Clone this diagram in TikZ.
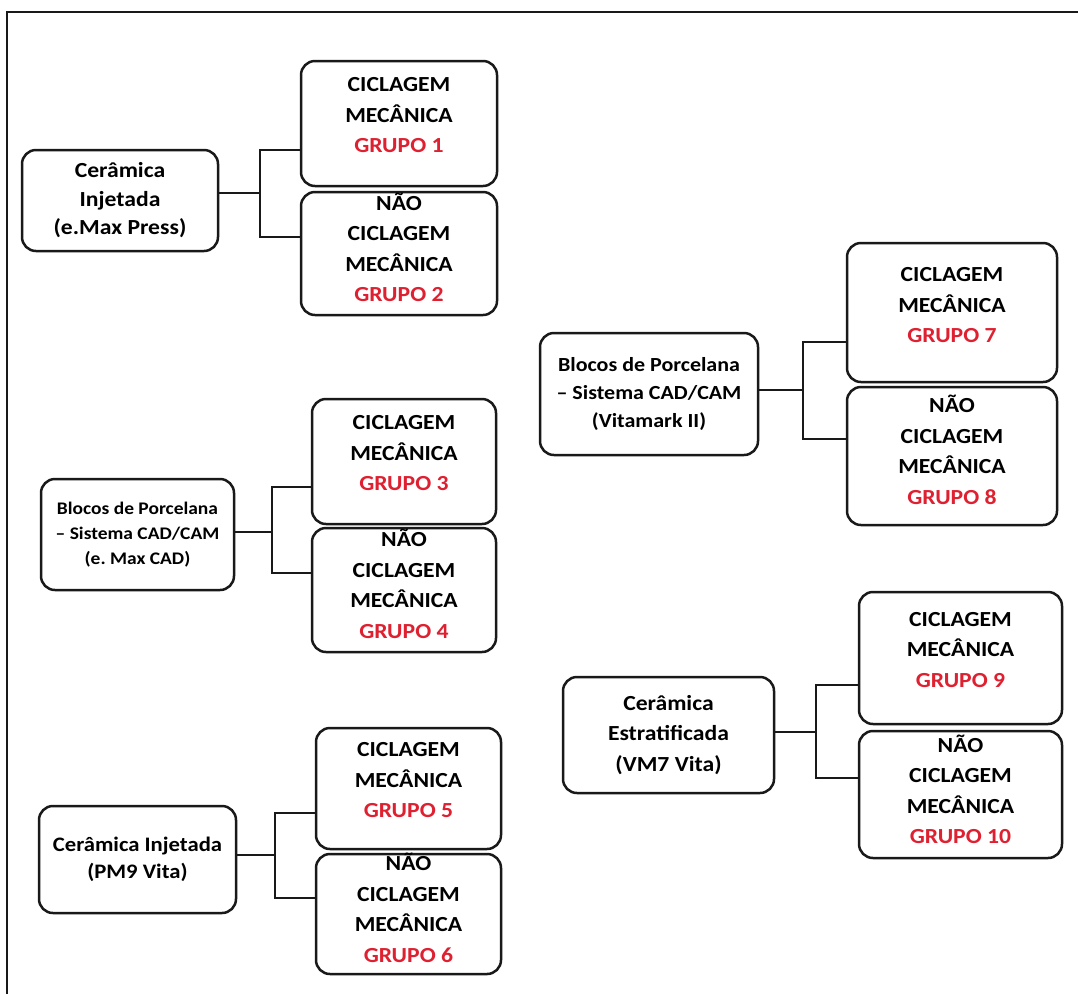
\documentclass[tikz,border=0pt]{standalone}
\usepackage{fontspec}
\setmainfont{Carlito}[FakeStretch=1.1]
\frenchspacing
\definecolor{grpred}{RGB}{222,32,48}
\definecolor{lineblack}{RGB}{25,25,25}
\tikzset{
  boxbase/.style={draw=lineblack, line width=2.5pt, rounded corners=14pt, fill=white, inner sep=0pt},
  pbox/.style={boxbase, align=center, font=\bfseries},
  cbox/.style={boxbase},
  ctext/.style={align=center, font=\fontsize{21.5}{30.5}\selectfont\bfseries, inner sep=0pt},
  conn/.style={draw=lineblack, line width=2.4pt},
}
\newcommand{\grp}[1]{\textcolor{grpred}{GRUPO #1}}
\begin{document}
\begin{tikzpicture}[x=1pt,y=-1pt]
\useasboundingbox (0,0) rectangle (1078,994);
\fill[white] (0,0) rectangle (1078,994);
% frame
\coordinate (fTL) at (7,12);
\coordinate (fTR) at (1078,12);
\coordinate (fBL) at (7,994);
\draw[line width=2.8pt, lineblack] (fTR) -- (fTL) -- (fBL);

% ---------- Group A ----------
\node[pbox, minimum width=196pt, minimum height=101pt, font=\fontsize{21.5}{28.5}\selectfont\bfseries] (pA) at (120,200.5) {Cerâmica\\Injetada\\(e.Max Press)};
\node[cbox, minimum width=196pt, minimum height=125pt] (c1) at (399,123.5) {};
\node[cbox, minimum width=196pt, minimum height=123pt] (c2) at (399,253.5) {};
\node[ctext] (t1) at ([yshift=8pt]c1.center) {CICLAGEM\\MECÂNICA\\\grp{1}};
\node[ctext] (t2) at ([yshift=6pt]c2.center) {NÃO\\CICLAGEM\\MECÂNICA\\\grp{2}};
\coordinate (jA) at (260,193);
\draw[conn] (pA.east |- jA) -- (jA);
\draw[conn] (c1.west |- 0,150) -| (jA) |- (c2.west |- 0,237);

% ---------- Group B ----------
\node[pbox, minimum width=193pt, minimum height=111pt, font=\fontsize{17.7}{25}\selectfont\bfseries] (pB) at (137.5,534.5) {Blocos de Porcelana\\– Sistema CAD/CAM\\(e. Max CAD)};
\node[cbox, minimum width=184pt, minimum height=125pt] (c3) at (404,461.5) {};
\node[cbox, minimum width=184pt, minimum height=124pt] (c4) at (404,590) {};
\node[ctext] (t3) at ([yshift=8pt]c3.center) {CICLAGEM\\MECÂNICA\\\grp{3}};
\node[ctext] (t4) at ([yshift=6pt]c4.center) {NÃO\\CICLAGEM\\MECÂNICA\\\grp{4}};
\coordinate (jB) at (272,532);
\draw[conn] (pB.east |- jB) -- (jB);
\draw[conn] (c3.west |- 0,487) -| (jB) |- (c4.west |- 0,573);

% ---------- Group C ----------
\node[pbox, minimum width=197pt, minimum height=107pt, font=\fontsize{20.6}{27}\selectfont\bfseries] (pC) at (137.5,859.5) {Cerâmica Injetada\\(PM9 Vita)};
\node[cbox, minimum width=185pt, minimum height=121pt] (c5) at (408.5,788.5) {};
\node[cbox, minimum width=185pt, minimum height=120pt] (c6) at (408.5,914) {};
\node[ctext] (t5) at ([yshift=8pt]c5.center) {CICLAGEM\\MECÂNICA\\\grp{5}};
\node[ctext] (t6) at ([yshift=6pt]c6.center) {NÃO\\CICLAGEM\\MECÂNICA\\\grp{6}};
\coordinate (jC) at (275,855);
\draw[conn] (pC.east |- jC) -- (jC);
\draw[conn] (c5.west |- 0,813) -| (jC) |- (c6.west |- 0,898);

% ---------- Group D ----------
\node[pbox, minimum width=218pt, minimum height=122pt, font=\fontsize{20}{28}\selectfont\bfseries] (pD) at (649,394) {Blocos de Porcelana\\– Sistema CAD/CAM\\(Vitamark II)};
\node[cbox, minimum width=210pt, minimum height=139pt] (c7) at (952,312.5) {};
\node[cbox, minimum width=210pt, minimum height=138pt] (c8) at (952,456) {};
\node[ctext] (t7) at ([yshift=7pt]c7.center) {CICLAGEM\\MECÂNICA\\\grp{7}};
\node[ctext] (t8) at ([yshift=6pt]c8.center) {NÃO\\CICLAGEM\\MECÂNICA\\\grp{8}};
\coordinate (jD) at (803,390);
\draw[conn] (pD.east |- jD) -- (jD);
\draw[conn] (c7.west |- 0,342) -| (jD) |- (c8.west |- 0,439);

% ---------- Group E ----------
\node[pbox, minimum width=211pt, minimum height=116pt, font=\fontsize{21.5}{30.5}\selectfont\bfseries] (pE) at (668.5,735) {Cerâmica\\Estratificada\\(VM7 Vita)};
\node[cbox, minimum width=203pt, minimum height=132pt] (c9) at (960.5,658) {};
\node[cbox, minimum width=203pt, minimum height=127pt] (c10) at (960.5,794.5) {};
\node[ctext] (t9) at ([yshift=8pt]c9.center) {CICLAGEM\\MECÂNICA\\\grp{9}};
\node[ctext] (t10) at ([yshift=5pt]c10.center) {NÃO\\CICLAGEM\\MECÂNICA\\\grp{10}};
\coordinate (jE) at (816,732);
\draw[conn] (pE.east |- jE) -- (jE);
\draw[conn] (c9.west |- 0,685) -| (jE) |- (c10.west |- 0,778);
\end{tikzpicture}
\end{document}
